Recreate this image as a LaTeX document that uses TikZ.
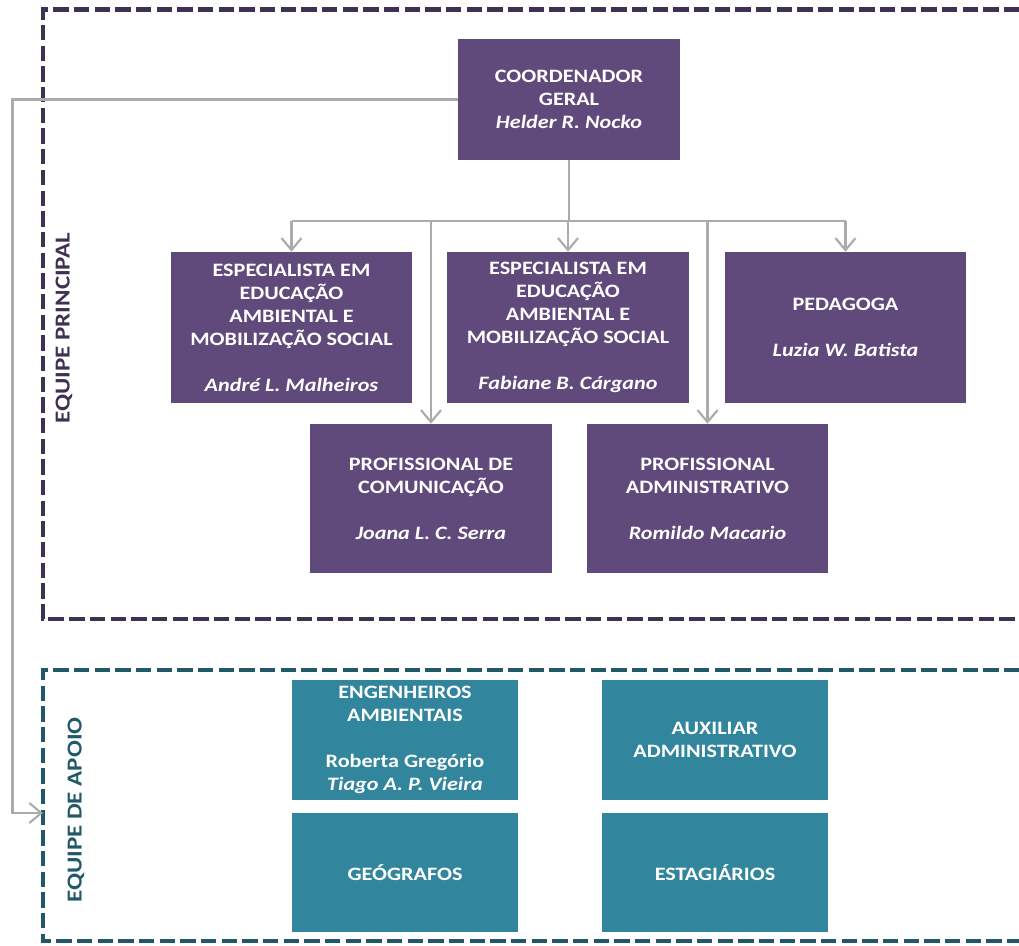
\documentclass[tikz,border=0pt]{standalone}
\usepackage{fontspec}
\setmainfont{Carlito}[FakeStretch=1.17]
\usetikzlibrary{arrows.meta}
\definecolor{boxpurple}{HTML}{604A7B}
\definecolor{dpurple}{HTML}{3F3151}
\definecolor{boxteal}{HTML}{31859C}
\definecolor{dteal}{HTML}{215968}
\definecolor{linegray}{HTML}{ABABAB}
\tikzset{
  pbox/.style={fill=boxpurple, text=white, align=center, inner sep=0pt,
    font=\bfseries\fontsize{14.2}{17.25}\selectfont},
  tbox/.style={fill=boxteal, text=white, align=center, inner sep=0pt,
    font=\bfseries\fontsize{14.2}{17.25}\selectfont},
  conn/.style={draw=linegray, line width=1.6pt},
  arr/.style={conn, -{Straight Barb[length=9pt,width=15pt,line width=1.6pt]}},
  pdash/.style={draw=dpurple, line width=3.3pt, dash pattern=on 11.5pt off 4pt},
  tdash/.style={draw=dteal, line width=3.3pt, dash pattern=on 11.5pt off 4pt},
  grouplabel/.style={rotate=90, font=\bfseries\fontsize{16}{19}\selectfont},
}
\begin{document}
\begin{tikzpicture}[x=0.75pt, y=-0.75pt]
\useasboundingbox (0,0) rectangle (1019,945);
% group frames
\draw[pdash] (1040,9.5) -- (43,9.5) -- (43,619) -- (1040,619);
\draw[tdash] (1040,670) -- (43,670) -- (43,941) -- (1040,941);
\node[grouplabel, text=dpurple] (lp) at (64,328) {EQUIPE PRINCIPAL};
\node[grouplabel, text=dteal] (la) at (76,810) {EQUIPE DE APOIO};
% main team
\node[pbox, minimum width=166.5pt, minimum height=90.75pt] (coord) at (569,99.5)
  {COORDENADOR\\GERAL\\\textit{Helder R. Nocko}};
\node[pbox, minimum width=180.75pt, minimum height=113.25pt] (b1) at (291.5,327.5)
  {ESPECIALISTA EM\\EDUCAÇÃO\\AMBIENTAL E\\MOBILIZAÇÃO SOCIAL\\[17.25pt]\textit{André L. Malheiros}};
\node[pbox, minimum width=181.5pt, minimum height=113.25pt] (b2) at (568,327.5)
  {ESPECIALISTA EM\\EDUCAÇÃO\\AMBIENTAL E\\MOBILIZAÇÃO SOCIAL\\[17.25pt]\textit{Fabiane B. Cárgano}};
\node[pbox, minimum width=180.75pt, minimum height=113.25pt] (b3) at (845.5,327.5)
  {PEDAGOGA\\[17.25pt]\textit{Luzia W. Batista}};
\node[pbox, minimum width=181.5pt, minimum height=111.75pt] (b4) at (431,498.5)
  {PROFISSIONAL DE\\COMUNICAÇÃO\\[17.25pt]\textit{Joana L. C. Serra}};
\node[pbox, minimum width=180.75pt, minimum height=111.75pt] (b5) at (707.5,498.5)
  {PROFISSIONAL\\ADMINISTRATIVO\\[17.25pt]\textit{Romildo Macario}};
% support team
\node[tbox, minimum width=169.5pt, minimum height=90pt] (e1) at (405,740)
  {ENGENHEIROS\\AMBIENTAIS\\[17.25pt]Roberta Gregório\\\textit{Tiago A. P. Vieira}};
\node[tbox, minimum width=169.5pt, minimum height=90pt] (e2) at (715,740)
  {AUXILIAR\\ADMINISTRATIVO};
\node[tbox, minimum width=169.5pt, minimum height=89.25pt] (e3) at (405,872.5)
  {GEÓGRAFOS};
\node[tbox, minimum width=169.5pt, minimum height=89.25pt] (e4) at (715,872.5)
  {ESTAGIÁRIOS};
% connectors
\coordinate (j) at (569,221);
\coordinate (rail) at (12.5,0);
\coordinate (apoioin) at (43,813);
\draw[conn] (coord.south) -- (j);
\draw[conn] (b1.north |- j) -- (b3.north |- j);
\draw[arr] (b1.north |- j) -- (b1.north);
\draw[arr] (b2.north |- j) -- (b2.north);
\draw[arr] (b3.north |- j) -- (b3.north);
\draw[arr] (b4.north |- j) -- (b4.north);
\draw[arr] (b5.north |- j) -- (b5.north);
\draw[arr] (coord.west) -- (coord.west -| rail) |- (apoioin);
\end{tikzpicture}
\end{document}
